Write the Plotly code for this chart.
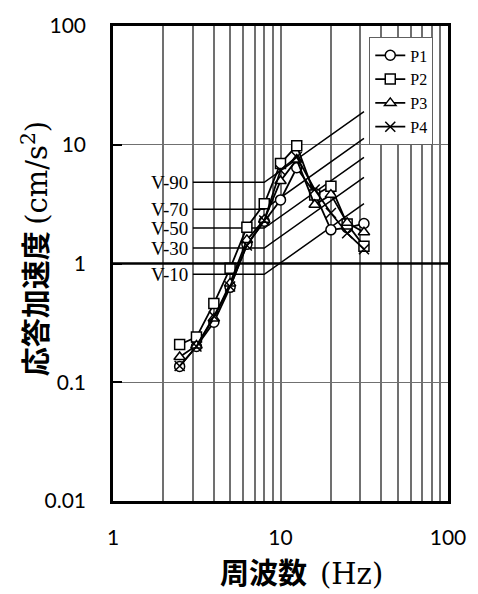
import plotly.graph_objects as go
import math

freqs = [2.5, 3.15, 4, 5, 6.3, 8, 10, 12.5, 16, 20, 25, 31.5]
p1 = [0.136, 0.20, 0.32, 0.63, 1.45, 2.27, 3.43, 6.4, 3.9, 1.92, 2.0, 2.17]
p2 = [0.208, 0.24, 0.46, 0.91, 2.02, 3.18, 6.95, 9.8, 3.78, 4.47, 2.15, 1.40]
p3 = [0.163, 0.204, 0.345, 0.68, 1.58, 2.34, 4.95, 7.5, 3.12, 3.8, 2.2, 1.83]
p4 = [0.137, 0.20, 0.36, 0.64, 1.42, 2.3, 6.1, 7.9, 4.2, 2.66, 1.8, 1.32]
series_names = ["P1", "P2", "P3", "P4"]
series_vals = [p1, p2, p3, p4]
series_symbols = ["circle", "square", "triangle-up", "x-thin"]

v_names = ["V-10", "V-30", "V-50", "V-70", "V-90"]
v_levels = [0.81, 1.35, 1.99, 2.87, 4.83]
v_freqs = [3, 8, 31.5]

x_ticks = [1, 10, 100]
y_ticks = [0.01, 0.1, 1, 10, 100]
y_tick_text = ["0.01", "0.1", "1", "10", "100"]

fig = go.Figure()

# V criteria lines
for name, lev in zip(v_names, v_levels):
    ys = [lev if f <= 8 else lev * f / 8 for f in v_freqs]
    fig.add_trace(go.Scatter(x=v_freqs, y=ys, mode="lines",
                             line=dict(color="black", width=1.5),
                             showlegend=False, hoverinfo="skip"))
    fig.add_annotation(x=math.log10(v_freqs[0]), y=math.log10(lev), text=name,
                       showarrow=False, xanchor="right", yanchor="middle", xshift=-3,
                       font=dict(family="Liberation Serif", size=19, color="black"))

for name, vals, sym in zip(series_names, series_vals, series_symbols):
    is_x = sym == "x-thin"
    fig.add_trace(go.Scatter(
        x=freqs, y=vals, mode="lines+markers", name=name,
        line=dict(color="black", width=1.8),
        marker=dict(symbol=sym, size=10,
                    color="white" if not is_x else "black",
                    line=dict(color="black", width=1.5)),
    ))

# thick line at y = 1
fig.add_shape(type="line", xref="paper", x0=0, x1=1, yref="y", y0=1, y1=1,
              line=dict(color="black", width=2.5), layer="above")

fig.update_xaxes(type="log", range=[0, 2], tickvals=x_ticks, ticktext=["1", "10", "100"],
                 showgrid=True, gridcolor="#707070", gridwidth=1.5,
                 minor=dict(showgrid=True, gridcolor="#707070", gridwidth=1.5,
                            dtick="D1"),
                 showline=True, linecolor="black", linewidth=2.5, mirror=True,
                 ticks="", ticklabelstandoff=16,
                 tickfont=dict(family="Lato", size=21, color="black"),
                 zeroline=False)
fig.update_yaxes(type="log", range=[-2, 2], tickvals=y_ticks, ticktext=y_tick_text,
                 showgrid=True, gridcolor="#707070", gridwidth=1.3,
                 showline=True, linecolor="black", linewidth=2.5, mirror=True,
                 ticks="inside", ticklen=9, tickwidth=2, tickcolor="black",
                 ticklabelstandoff=20,
                 tickfont=dict(family="Lato", size=21, color="black"),
                 zeroline=False)

fig.add_annotation(xref="paper", yref="paper", x=0.564, y=-0.148,
                   text='<b>周波数</b>  <span style="font-family:DejaVu Serif">(Hz)</span>',
                   showarrow=False, xanchor="center", yanchor="middle",
                   font=dict(family="Noto Sans CJK JP", size=29, color="black"))
fig.add_annotation(xref="paper", yref="paper", x=-0.2355, y=0.530, textangle=-90,
                   text='<b>応答加速度</b> <span style="font-family:DejaVu Serif">(cm/s<sup>2</sup>)</span>',
                   showarrow=False, xanchor="center", yanchor="middle",
                   font=dict(family="Noto Sans CJK JP", size=29, color="black"))

fig.update_layout(
    width=478, height=594,
    margin=dict(l=113, r=21, t=22, b=93),
    paper_bgcolor="white", plot_bgcolor="white",
    showlegend=True,
    legend=dict(x=0.765, y=0.976, xanchor="left", yanchor="top",
                bgcolor="white", bordercolor="#606060", borderwidth=1,
                font=dict(family="Liberation Serif", size=16, color="black"),
                itemwidth=30, tracegroupgap=0),
)

fig.write_html("out.html")
